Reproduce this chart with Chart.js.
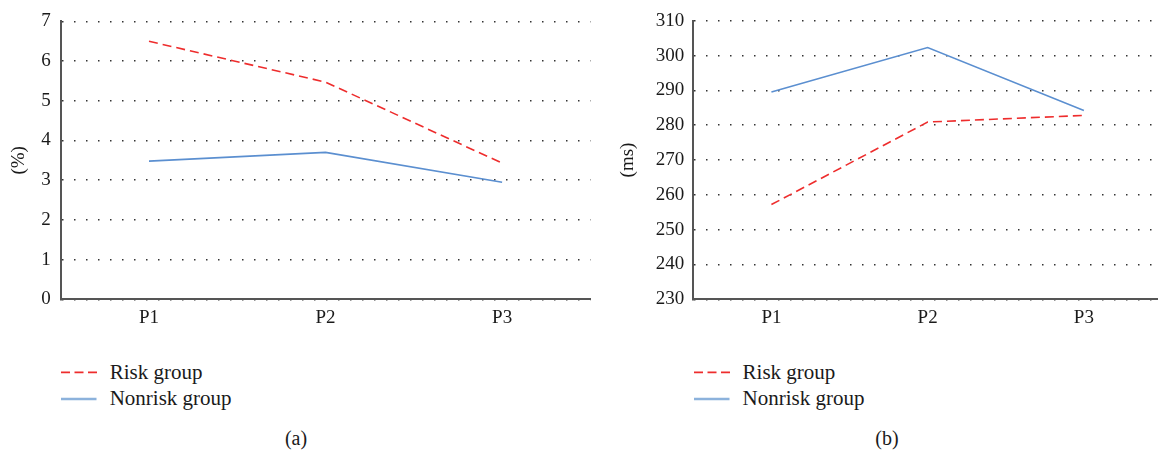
<!DOCTYPE html>
<html>
<head>
<meta charset="utf-8">
<script src="https://cdn.jsdelivr.net/npm/chart.js@4/dist/chart.umd.min.js"></script>
<style>
  html, body { margin: 0; padding: 0; background: #fff; }
  body { width: 1158px; height: 451px; position: relative; overflow: hidden; font-family: "Liberation Serif", serif; color: #1a1a1a; }
  canvas { position: absolute; top: 0; }
  .leg { position: absolute; font-size: 21px; line-height: 26px; white-space: nowrap; }
  .leg div { position: relative; padding-left: 49px; }
  .leg svg { position: absolute; left: 0; top: 0; }
  .cap { position: absolute; font-size: 20px; line-height: 22px; width: 100px; text-align: center; }
</style>
</head>
<body>
<canvas id="c1" width="600" height="330" style="left:0px"></canvas>
<canvas id="c2" width="580" height="330" style="left:590px"></canvas>

<div class="leg" style="left:60.7px; top:358.9px;">
  <div><svg width="40" height="26"><line x1="0" y1="13.4" x2="36" y2="13.4" stroke="#ee2d2d" stroke-width="1.6" stroke-dasharray="9,4.5"/></svg>Risk group</div>
  <div><svg width="40" height="26"><line x1="0" y1="14" x2="35.5" y2="14" stroke="#8cb2dc" stroke-width="2.6"/></svg>Nonrisk group</div>
</div>
<div class="leg" style="left:693.6px; top:358.9px;">
  <div><svg width="40" height="26"><line x1="0" y1="13.4" x2="36" y2="13.4" stroke="#ee2d2d" stroke-width="1.6" stroke-dasharray="9,4.5"/></svg>Risk group</div>
  <div><svg width="40" height="26"><line x1="0" y1="14" x2="35.5" y2="14" stroke="#8cb2dc" stroke-width="2.6"/></svg>Nonrisk group</div>
</div>
<div class="cap" style="left:246px; top:427px;">(a)</div>
<div class="cap" style="left:837px; top:427px;">(b)</div>

<script>
// ---- data ----
const categories = ['P1', 'P2', 'P3'];
const seriesNames = ['Risk group', 'Nonrisk group'];
const riskPercent = [6.5, 5.47, 3.43];
const nonriskPercent = [3.48, 3.70, 2.95];
const riskMs = [257.2, 280.9, 282.8];
const nonriskMs = [289.5, 302.3, 284.2];
const percentAxis = { min: 0, max: 7, step: 1, title: '(%)' };
const msAxis = { min: 230, max: 310, step: 10, title: '(ms)' };

const RED = '#ee2d2d';
const BLUE = '#5b8fd0';
const FONT = 'Liberation Serif';

function makeChart(id, riskData, nonriskData, axis, geom) {
  return new Chart(document.getElementById(id), {
    type: 'line',
    data: {
      labels: categories,
      datasets: [
        { label: seriesNames[0], data: riskData, borderColor: RED, borderWidth: 1.6,
          borderDash: [9, 5], pointRadius: 0, tension: 0, fill: false },
        { label: seriesNames[1], data: nonriskData, borderColor: BLUE, borderWidth: 1.6,
          pointRadius: 0, tension: 0, fill: false }
      ]
    },
    options: {
      responsive: false,
      animation: false,
      devicePixelRatio: 1,
      layout: { padding: { top: 20.7, right: geom.padRight, bottom: 0, left: 0 } },
      plugins: { legend: { display: false }, tooltip: { enabled: false } },
      scales: {
        x: {
          type: 'category',
          offset: true,
          grid: { display: false, drawTicks: false },
          border: { display: true, color: '#555', width: 2 },
          ticks: { color: '#1a1a1a', font: { family: FONT, size: 19 }, padding: 7.6, maxRotation: 0 },
          afterFit: s => { s.height = 30.7; }
        },
        y: {
          min: axis.min, max: axis.max,
          grid: { display: true, drawTicks: false, color: '#333', lineWidth: 1.5 },
          border: { display: true, color: '#555', width: 2, dash: [1.5, 10.5], dashOffset: 0 },
          ticks: { stepSize: axis.step, color: '#1a1a1a', font: { family: FONT, size: 19 }, padding: geom.tickPad },
          title: { display: true, text: axis.title, color: '#1a1a1a', font: { family: FONT, size: 19 },
                   padding: { top: geom.titlePad, bottom: 0 } },
          afterFit: s => { s.width = geom.axisWidth; }
        }
      }
    }
  });
}

makeChart('c1', riskPercent, nonriskPercent, percentAxis,
  { padRight: 9.6, axisWidth: 60.7, tickPad: 10, titlePad: 8 });
makeChart('c2', riskMs, nonriskMs, msAxis,
  { padRight: 8, axisWidth: 103.3, tickPad: 9, titlePad: 26.6 });
</script>
</body>
</html>
